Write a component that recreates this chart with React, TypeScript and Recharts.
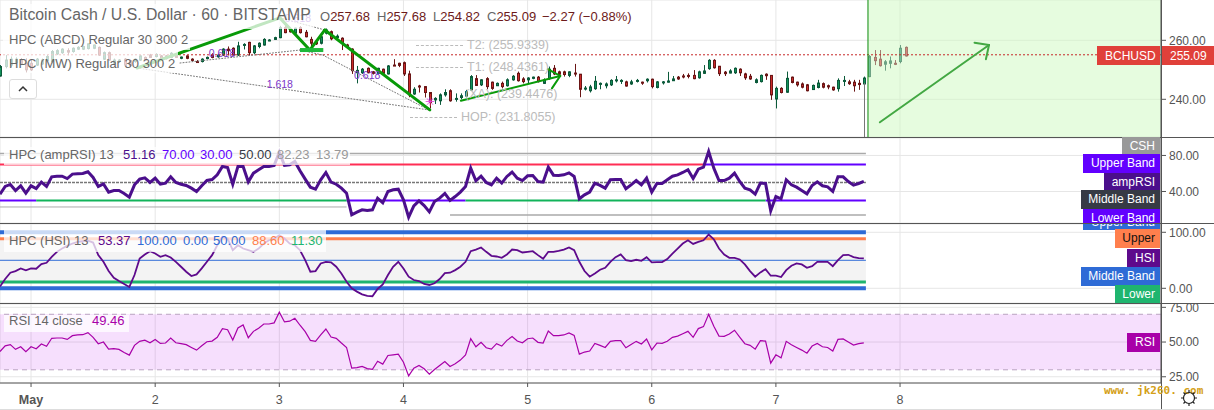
import React from 'react';
import { ComposedChart, Bar, Line, XAxis, YAxis, CartesianGrid, ReferenceLine, ReferenceArea, ReferenceDot } from 'recharts';

// hourly candles, one entry per bar
const opens = [
  247.9,251.1,251.6,252.4,253.3,252.2,252.2,251.6,252,253.1,
  252.8,255.4,255.8,256.5,256.2,257,257,257.2,257.3,257.6,
  253.6,255.8,252.2,252.8,253.6,253.1,252.8,253.3,254.2,255,
  254.5,254.7,254.7,254.2,255.4,253.9,254.7,253.6,252.8,252.8,
  253.8,255,254.4,255,257,257.3,255,258.3,259.3,255.8,
  257.9,258.4,259.9,260.3,260.9,264.3,263.7,262.4,264.3,262.7,
  260.3,259.3,259,262.4,262.9,260.9,260.7,258.4,257,249,
  249,250.5,249.3,248.8,250.2,248.6,251.6,252.2,252.4,248.6,
  241.8,244.5,244.3,242.3,239.8,239.5,241.5,242.9,240.1,240.6,
  241.1,243.2,247,244.9,247,245.8,244.6,245.4,244.6,246.6,
  248.8,246.9,246.6,247.1,247.5,245.4,247,250.5,249.3,249.3,
  248.1,248.9,248.5,243.5,242.9,243.6,245.1,244.6,244.9,246.4,
  246.1,245.9,245.2,246.1,245.8,246.3,246.8,244,245.7,245.8,
  246.3,247.5,247.9,248.1,248.1,247.3,248.8,250.4,253.2,251.2,
  249.2,248.9,249,250.2,248.6,247.8,245.7,246,248.5,248.1,
  240.1,243.7,242.4,247.5,245.8,245.2,244.9,243.3,244,245.3,
  244.6,244.1,243.6,246.3,245.9,245.8,245.4,245.2,247.7,254.2,
  253.6,251.9,252.2,252.2,252.8,257.6,
];
const closes = [
  251.1,253.3,253.6,253.6,252,250,250,253.6,253.3,254.5,
  256.2,256.5,257,256,257.3,257.6,257.9,258.8,258.4,255,
  255.8,253.3,253.3,253.3,251.6,251.5,253.6,254.7,253.3,254.2,
  255.2,253.8,253.8,255.6,254.2,254.3,253.9,253.2,252.6,253.6,
  254.2,254.2,255,257,256.5,255,258.1,258.6,255.8,258.1,
  259,260.3,260.1,260.9,264.3,262.6,262.9,264.1,262.6,261.2,
  259,258.8,261.2,263.5,260.5,261.4,259,257.6,249.7,249.8,
  250.2,249,248.8,250.5,248.8,251.3,251.4,251.5,248.6,241.5,
  243.4,244.4,242.3,238.9,240.3,241.5,242.3,239.5,240.3,241.2,
  242.6,247.7,244.7,246.6,244.3,243.7,245.4,244.3,246.6,247.8,
  246.3,246,247.2,247.5,246,246.6,250.2,248.6,248.5,248.4,
  249.3,248.7,243.4,243.8,244.2,246.1,245.4,245.2,246.4,246.6,
  246.4,244.5,245.9,246.4,245.7,246.8,244.3,245.9,245.9,246.2,
  246.9,246.9,247.7,247.9,247,249.3,249.6,253.2,250.7,248.7,
  248.7,249.6,250.5,249,247.3,246.9,246.6,248.1,248,241.5,
  243.7,242.3,247.1,245.7,244.9,244.1,242.9,244.7,245.5,244.1,
  244.2,243.2,246.4,246.4,245.3,244.6,245,247.2,254.5,253.1,
  251.4,252.7,253,252.1,257.3,254.7,
];
const highs = [
  251.6,255,254.5,254.2,254,253.9,253.6,254,253.8,255,
  256.7,257,257.3,257.3,257.6,258,258.2,259,258.6,257.9,
  256.2,256.2,253.8,253.6,254,253.4,253.9,255,254.5,255.4,
  255.6,255,255,256,255.6,254.5,254.9,253.9,253.3,253.9,
  254.5,255.6,255.3,257.3,257.9,257.6,259.5,259,259.5,258.4,
  259.3,260.7,260.4,261.2,264.9,265.8,264.2,264.3,264.8,263.5,
  261.2,259.7,261.5,264,263.3,262,261,258.8,257.3,251.3,
  250.6,250.8,249.6,250.7,250.4,251.6,253.6,252.4,252.8,249.7,
  244.1,244.9,244.5,242.3,240.7,242,243.4,243.4,242,242,
  243.2,248.2,248.2,246.8,247.5,246,245.7,246,247.1,248.2,
  249.4,247.5,247.5,247.7,247.9,247.1,251.1,251.6,249.7,249.7,
  249.5,252,248.6,244.5,244.9,247.9,245.7,245.7,246.8,247.9,
  246.8,246.3,246.6,246.9,246,247.1,247,246.2,246.2,249.3,
  247.9,247.9,248.6,248.8,249.9,249.7,251.6,253.6,253.6,251.3,
  249.6,250.2,250.8,250.5,249,248.6,247.1,248.4,248.8,248.2,
  244.3,244.1,249.4,247.7,246,245.7,245.2,245,246.6,245.7,
  245,244.3,247.1,247.9,246.6,246.6,246.6,247.7,255,256.7,
  256.7,253.3,254.5,253.3,258.4,257.9,
];
const lows = [
  247.7,250.5,250.9,252,251.6,249.1,249.6,251.3,251.6,252.8,
  252.2,255,255.4,254.9,255.8,256.7,256.7,256.9,257,254.7,
  253.3,253,252,252.4,251.3,251.1,252.4,253,253,254,
  254.2,253.6,253.5,253.9,254,253.6,253.6,252.8,252.5,252.5,
  253.6,253.9,254.1,254.7,254.9,254.8,254.7,256.9,255,255.3,
  257.3,258.2,259.7,260.1,260.7,262.4,262.6,262,262.3,261,
  256.7,258.4,258.6,262,260,260.6,256.7,257.3,248.6,245.4,
  248.6,248.8,248.4,248.6,248.6,248.4,251.3,250.9,247.9,240.7,
  241.5,242.3,240.6,236.9,238.4,238.1,240.9,239.2,239.2,240,
  240.7,242.9,244.5,244.5,243.4,243.2,244.5,243.7,244.3,246.3,
  246,245.4,245.4,246.8,245.7,245.2,246.6,248.2,247.7,247.7,
  247.5,247.7,240.7,243,242.3,243.2,243.4,243.7,244.5,245.7,
  245.2,244.3,244.9,245.7,244.9,245.7,243.7,243.7,245,245.7,
  246.2,246.6,247.1,247.1,246.8,247,248.6,250,250.4,247.9,
  247.9,248.8,248.6,247.9,246.6,246.6,245.4,245.7,246.6,239.8,
  236.9,242,242.2,245.4,244.3,243.7,242.7,243.2,243.7,243.7,
  243.4,242.9,242.6,244.5,244.9,242.6,243.2,244.9,247.5,251.6,
  251.1,249.7,250.5,251.6,252.2,254.5,
];

const ampRsi = [
  37,45.6,47.8,41.1,46.3,38.1,46.3,43.3,50.4,45.6,
  56.3,57,57,54.4,59.3,59.6,60,61.9,55.6,45.6,
  48.5,39.3,41.1,41.1,37.8,33.7,47.4,53.7,55.2,50,
  54.8,48.1,49.3,56.3,50,48.1,46.7,43.7,40,46.3,
  52.2,53.3,58.5,67.8,66.7,48.1,67.8,67.8,50.7,60.4,
  64.1,67.8,67.8,68.9,83.7,68.9,69.6,73.3,63,53.7,
  44.8,42.6,53,61.1,50.4,48.1,43.7,38.1,14.1,17,
  19.6,18.9,19.6,32.6,27.4,40,41.9,42.6,30.7,11.5,
  24.1,29.6,24.4,17.4,28.9,32.6,37.8,30,34.4,39.3,
  45.6,65.9,51.9,57,50,47.4,54.8,49.3,56.7,61.5,
  54.8,52.2,57.4,57.8,51.1,50.4,67,58.1,57.8,58.5,
  60.7,56.7,31.9,36.3,39.3,49.3,46.7,43.7,53,53.3,
  53.3,43,47.4,52.2,47.4,54.8,39.3,48.9,48.9,53,
  57,58.5,61.1,64.1,54.4,64.8,67,84.4,65.9,52.2,
  52.2,54.8,60.4,51.1,43.7,41.9,37,49.3,48.9,18.5,
  34.4,31.9,53,47.4,44.8,41.1,37.4,46.7,50.7,46.3,
  45.2,40,56.3,56.3,51.1,47,48.9,51.16,
];
const hsi = [
  3,16.6,27.8,30.8,35.5,32,35.5,34.9,43.2,45.6,
  56.2,65.1,71,75.7,79.9,82.8,84,85.2,81.7,59.2,
  47.3,30.8,18.9,13,7.7,2.4,23.7,53.3,60.4,66.3,
  62.1,56.2,59.2,55,47.3,38.5,29.6,21.9,24.9,35.5,
  47.3,59.2,76.9,91.7,88.8,68,76.9,71,68,65.1,
  71,79.9,85.8,88.8,94.7,88.8,79.9,76.9,68,50.3,
  29.6,30.8,44.4,47.3,46.2,38.5,26.6,11.8,0,-5.9,
  -10.7,-13.6,-14.2,-1.2,7.1,23.7,38.5,47.3,35.5,20.7,
  14.8,13,7.7,5.9,8.9,16.6,27.2,27.8,32.5,38.5,
  47.3,66.3,69.2,72.8,65.1,58,56.8,54.4,60.4,69.2,
  68,63.9,65.1,66.3,59.2,52.7,65.1,65.1,66.9,69.2,
  72.8,68,47.3,30.8,20.7,26.6,33.1,36.7,47.3,55.6,
  60.4,50.3,48.5,50.9,49.1,55.6,46.2,46.7,46.7,52.1,
  62.1,71,79.9,85.8,79.3,82.8,85.8,95.9,87.6,71,
  60.4,54.4,54.4,51.5,42.6,30.8,20.7,28.4,34.3,22.5,
  22.5,20.1,32.5,40.2,44.4,42.6,36.7,39.6,47.3,47.3,
  47.3,39.6,50.3,59.2,59.8,55.6,53.8,53.37,
];
const rsi = [
  43.2,47.3,48.1,44.7,46.6,43,46.6,45.2,48.6,46.9,
  52.7,52.9,52.9,51.9,54.6,55.1,55.3,56.8,53.4,48.8,
  50,44.9,45.2,44.7,42.5,40.6,47.6,50.5,51.4,49.5,
  51.9,49,49.3,52.9,49.5,48.8,48.1,46.1,44.2,47.3,
  50.2,50.7,53.4,59.7,58.9,51.4,60.1,62.3,53.1,57.7,
  59.9,63,63,63.8,71.5,64.5,65,67.1,62.1,57.5,
  51.2,50.5,55.1,59.4,53.6,52.7,49.3,46.1,31.2,31.6,
  32.4,30.9,30.4,36.2,34.1,40.3,40.8,41.3,35.5,25.6,
  31.2,33.1,30.7,26.8,30.2,33.1,36,32.4,34.3,37,
  40.8,52.4,46.6,49.8,45.9,44.9,48.8,47.1,51.2,53.9,
  50.7,49.5,52.4,52.9,49.8,49.3,58,54.6,54.6,55.1,
  56.5,54.8,41.3,42.8,43.5,49,47.6,46.1,50.5,51,
  51,45.9,48.3,50.5,48.6,52.2,44.4,49.3,49,50.5,
  53.4,54.3,56,57.7,53.4,59.7,61.1,70,61.4,54.3,
  54.1,55.8,58.5,53.6,48.8,47.6,44.9,51,50.7,34.8,
  40.8,38.6,50.5,48.1,46.1,44.2,42,47.1,49,46.6,
  46.1,43.5,51.9,52.2,50,47.8,48.8,49.46,
];

const dayTicks = [6, 30, 54, 78, 102, 126, 150, 174];
const dayLabels = ['May', '2', '3', '4', '5', '6', '7', '8'];

const priceTicks = [240, 260];
const ampTicks = [40, 80];
const hsiTicks = [0, 100];
const rsiTicks = [25, 50, 75];

const lastPrice = 255.09;
const lastBar = 167.4;
const futureStart = 167.8;
const xEnd = 224.45;

// bands of the indicators, as [from bar, to bar]
const upperRedSpans = [[0, 136]];
const upperPurpleSpans = [[136, lastBar]];
const lowerPurpleSpans = [[0, 7], [67, 90], [148, lastBar]];
const lowerGreenSpans = [[7, 67], [90, 148]];
const cshUpperSpans = [[0, lastBar]];
const cshEarlySpans = [[0, 67]];
const cshLowerSpans = [[87, lastBar]];
const cshUpperLevel = 82.23;
const cshLowerLevel = 13.79;
const cshEarlyLevel = 22.8;

// harmonic pattern and arrows drawn on the price pane, as [bar, price]
const abcdLeg = [[26.5, 250.6], [54.1, 267.6], [59.9, 256.7], [62.8, 263.5], [83.1, 236.4]];
const midArrow = [[89.1, 239.5], [108.3, 247.9]];
const midArrowHead = [[105.9, 250.2], [108.3, 247.9], [106.7, 243.7]];
const bigArrow = [[170.1, 232.2], [191.2, 258.4]];
const bigArrowHead = [[188.4, 259.2], [191.2, 258.4], [190.6, 253.6]];
const dottedLegs = [
  [[26.5, 250.6], [82.9, 236.4]],
  [[34.8, 252.3], [58, 256.7]],
  [[54.1, 267.6], [62.8, 263.5]],
  [[58, 256.7], [62.4, 255]],
  [[62.4, 255], [82.9, 236.4]],
];
const ratioLabels = [
  { i: 54.1, p: 245.2, text: '1.618' },
  { i: 42.9, p: 255.7, text: '0.618' },
  { i: 57.6, p: 267.6, text: '0.618' },
  { i: 71, p: 248.2, text: '0.618' },
];

const rows = opens.map((o, i) => ({
  i,
  open: o,
  close: closes[i],
  high: highs[i],
  low: lows[i],
  amp: ampRsi[i],
  hsi: hsi[i],
  rsi: rsi[i],
}));

const FONT = '"Liberation Sans", Arial, sans-serif';
const GRID = '#e6e6e6';
const AXIS = '#555';
const VIOLET = '#6200ff';
const BLUE = '#2e6bd6';
const ORANGE = '#ff7f4d';
const GREEN = '#1fb56f';
const DEEP = '#4b0f8c';

const Candle = (props: any) => {
  const { x, y, width, height, payload } = props;
  const perUnit = height / (payload.high - payload.low);
  const top = y + (payload.high - Math.max(payload.open, payload.close)) * perUnit;
  const bodyH = Math.max(1, Math.abs(payload.open - payload.close) * perUnit);
  const up = payload.close >= payload.open;
  const cx = Math.round(x + width / 2) + 0.5;
  const edge = up ? '#0b5a3a' : '#6a1515';
  // the forecast zone paints over the last candles, so they come out washed
  return (
    <g opacity={payload.i > futureStart ? 0.55 : 1}>
      <line x1={cx} x2={cx} y1={y} y2={y + height} stroke={edge} strokeWidth={1} />
      <rect x={cx - 1} y={top} width={2} height={bodyH} fill={up ? '#12915a' : '#cc2a2a'} stroke={edge} strokeWidth={1} />
    </g>
  );
};

const DayTick = (props: any) => {
  const { x, y, index } = props;
  const label = dayLabels[index];
  return (
    <text x={x} y={y + 15} textAnchor="middle" fill={AXIS} fontSize={12.5} fontFamily={FONT} fontWeight={label === 'May' ? 'bold' : 'normal'}>
      {label}
    </text>
  );
};

const Txt = ({ x, y, color, size = 13, children, weight }: any) => (
  <div style={{ position: 'absolute', left: x, top: y, color, fontSize: size, fontFamily: FONT, fontWeight: weight, lineHeight: '16px', whiteSpace: 'nowrap' }}>
    {children}
  </div>
);

const Box = ({ x, y, w, h, color, opacity }: any) => (
  <div style={{ position: 'absolute', left: x, top: y, width: w, height: h, background: color, opacity }} />
);

const Tag = ({ x, y, w, h = 19, bg, color = '#fff', children, shift = 0 }: any) => (
  <div
    style={{
      position: 'absolute', left: x, top: y, width: w, height: h, background: bg, color,
      fontSize: 12, fontFamily: FONT, lineHeight: '19px', textAlign: 'right',
      paddingRight: 5, boxSizing: 'border-box', overflow: 'hidden', whiteSpace: 'nowrap',
    }}
  >
    <div style={{ marginTop: shift }}>{children}</div>
  </div>
);

const DashLabel = ({ x, y, dash, text }: any) => (
  <>
    <div style={{ position: 'absolute', left: x, top: y, width: dash, borderTop: '1px dashed #bbb' }} />
    <Txt x={x + dash + 4} y={y - 8} color="#bbb" size={12.5}>{text}</Txt>
  </>
);

const xProps: any = {
  dataKey: 'i',
  type: 'number',
  domain: [0, xEnd],
  ticks: dayTicks,
  allowDataOverflow: true,
};

const yProps = (domain: number[], ticks: number[]): any => ({
  orientation: 'right',
  width: 53,
  type: 'number',
  domain,
  ticks,
  allowDataOverflow: true,
  interval: 0,
  tickSize: 5,
  tickMargin: 3,
  stroke: AXIS,
  tick: { fill: AXIS, fontSize: 12, fontFamily: FONT },
  tickFormatter: (v: number) => v.toFixed(2),
});

const seg = (a: number[], b: number[]): any => [{ x: a[0], y: a[1] }, { x: b[0], y: b[1] }];

const spanLines = (spans: number[][], level: number, color: string, width: number, key: string) =>
  spans.map(([from, to]) => (
    <ReferenceLine key={`${key}-${from}`} segment={seg([from, level], [to, level])} stroke={color} strokeWidth={width} />
  ));

const pathLines = (pts: number[][], color: string, width: number, key: string, dash?: string) =>
  pts.slice(1).map((p, n) => (
    <ReferenceLine key={`${key}-${n}`} segment={seg(pts[n], p)} stroke={color} strokeWidth={width} strokeDasharray={dash} strokeLinecap="round" />
  ));

const App = () => {
  const width = 1214;
  const margin = { top: 0, right: 0, bottom: 0, left: 0 };
  return (
    <div style={{ position: 'absolute', left: 0, top: 0, width, height: 410, background: '#fff', overflow: 'hidden' }}>
      <div style={{ position: 'absolute', left: 0, top: 0 }}>
        <ComposedChart width={width} height={137} data={rows} margin={margin}>
          <CartesianGrid stroke={GRID} />
          <XAxis {...xProps} hide />
          <YAxis {...yProps([227.22, 273.66], priceTicks)} />
          <ReferenceArea x1={futureStart} x2={xEnd} y1={227.22} y2={273.66} fill="#cdfac0" fillOpacity={0.5} stroke="none" />
          <Bar dataKey={(d: any) => [d.low, d.high]} barSize={4} shape={<Candle />} isAnimationActive={false} />
          <ReferenceLine y={lastPrice} stroke="#c62828" strokeDasharray="2 2" />
          {dottedLegs.map((leg, n) => pathLines(leg, '#777', 1, `dot${n}`, '1 2'))}
          {pathLines(abcdLeg, '#089a08', 3, 'abcd')}
          <ReferenceLine segment={seg([58, 256.7], [62.5, 256.7])} stroke="#1fb83a" strokeWidth={4} />
          {pathLines(midArrow, '#089a08', 2, 'mid')}
          {pathLines(midArrowHead, '#089a08', 2, 'midh')}
          {ratioLabels.map((r) => (
            <ReferenceDot key={r.text + r.i} x={r.i} y={r.p} r={0} stroke="none" label={{ value: r.text, position: 'center', fill: '#7b35c9', fontSize: 10.5, fontFamily: FONT }} />
          ))}
          {pathLines(bigArrow, '#43a843', 2, 'big')}
          {pathLines(bigArrowHead, '#43a843', 2, 'bigh')}
          <ReferenceLine x={futureStart} stroke="#0a8a0a" strokeWidth={1} />
        </ComposedChart>
      </div>

      <div style={{ position: 'absolute', left: 0, top: 138 }}>
        <ComposedChart width={width} height={85} data={rows} margin={margin}>
          <CartesianGrid stroke={GRID} />
          <XAxis {...xProps} hide />
          <YAxis {...yProps([5, 99.4], ampTicks)} />
          {spanLines(cshUpperSpans, cshUpperLevel, '#aaa', 1.5, 'cshU')}
          {spanLines(cshEarlySpans, cshEarlyLevel, '#aaa', 1, 'cshE')}
          {spanLines(cshLowerSpans, cshLowerLevel, '#aaa', 1.5, 'cshL')}
          {spanLines(upperRedSpans, 70, '#ff2e55', 2, 'ur')}
          {spanLines(upperPurpleSpans, 70, VIOLET, 2, 'up')}
          <ReferenceLine segment={seg([0, 50], [lastBar, 50])} stroke="#777" strokeWidth={1.5} strokeDasharray="3 1" />
          {spanLines(lowerPurpleSpans, 30, VIOLET, 2, 'lp')}
          {spanLines(lowerGreenSpans, 30, '#12b35a', 2, 'lg')}
          <Line dataKey="amp" stroke={DEEP} strokeWidth={3} dot={false} isAnimationActive={false} />
        </ComposedChart>
      </div>

      <div style={{ position: 'absolute', left: 0, top: 224 }}>
        <ComposedChart width={width} height={79} data={rows} margin={margin}>
          <CartesianGrid stroke={GRID} />
          <XAxis {...xProps} hide />
          <YAxis {...yProps([-26.25, 114.8], hsiTicks)} />
          <ReferenceArea x1={0} x2={lastBar} y1={11.3} y2={88.6} fill="#f3f3f3" fillOpacity={1} stroke="none" />
          <ReferenceLine segment={seg([0, 100], [lastBar, 100])} stroke={BLUE} strokeWidth={4} />
          <ReferenceLine segment={seg([0, 0], [lastBar, 0])} stroke={BLUE} strokeWidth={4} />
          <ReferenceLine segment={seg([0, 88.6], [lastBar, 88.6])} stroke={ORANGE} strokeWidth={3} />
          <ReferenceLine segment={seg([0, 11.3], [lastBar, 11.3])} stroke={GREEN} strokeWidth={3} />
          <ReferenceLine segment={seg([0, 50], [lastBar, 50])} stroke={BLUE} strokeWidth={1} />
          <Line dataKey="hsi" stroke="#5e0a8c" strokeWidth={1.8} dot={false} isAnimationActive={false} />
        </ComposedChart>
      </div>

      <div style={{ position: 'absolute', left: 0, top: 304 }}>
        <ComposedChart width={width} height={105} data={rows} margin={margin}>
          <CartesianGrid stroke={GRID} />
          <XAxis {...xProps} height={26} tickSize={4} stroke={AXIS} tick={<DayTick />} interval={0} />
          <YAxis {...yProps([20.5, 77.4], rsiTicks)} />
          <ReferenceArea x1={0} x2={xEnd} y1={30} y2={70} fill="#ba09f0" fillOpacity={0.13} stroke="none" />
          <ReferenceLine y={70} stroke="#b9a3c0" strokeDasharray="5 4" />
          <ReferenceLine y={30} stroke="#b9a3c0" strokeDasharray="5 4" />
          <Line dataKey="rsi" stroke="#a800a8" strokeWidth={1.2} dot={false} isAnimationActive={false} />
        </ComposedChart>
      </div>

      {/* pane separators */}
      <Box x={0} y={137} w={1214} h={1} color="#555" />
      <Box x={0} y={223} w={1214} h={1} color="#555" />
      <Box x={0} y={303} w={1214} h={1} color="#555" />
      <Box x={1161} y={0} w={1} h={410} color="#555" />
      <Box x={0} y={409} w={1214} h={1} color="#ddd" />
      <Box x={864} y={83} w={1} h={54} color="#777" />

      {/* legend backdrops */}
      <Box x={3} y={4} w={310} h={25} color="#fff" opacity={0.75} />
      <Box x={3} y={29} w={187} h={21} color="#fff" opacity={0.75} />
      <Box x={3} y={50} w={175} h={23} color="#fff" opacity={0.75} />
      <Box x={4} y={147} w={346} h={18} color="#fff" opacity={0.75} />
      <Box x={4} y={230} w={322} h={22} color="#fff" opacity={0.75} />
      <Box x={4} y={315} w={125} h={17} color="#fff" opacity={0.75} />

      <Txt x={9} y={7} color="#666" size={15.8}>Bitcoin Cash / U.S. Dollar · 60 · BITSTAMP</Txt>
      {[['O', '257.68', 320], ['H', '257.68', 377], ['L', '254.82', 433], ['C', '255.09', 487]].map(([a, b, x]) => (
        <Txt key={a as string} x={x} y={9} color="#6d1a1a"><span style={{ color: '#666' }}>{a}</span>{b}</Txt>
      ))}
      <Txt x={542} y={9} color="#6d1a1a">−2.27 (−0.88%)</Txt>
      <Txt x={9} y={32} color="#666">HPC (ABCD) Regular 30 300 2</Txt>
      <Txt x={9} y={56} color="#666">HPC (MW) Regular 30 300 2</Txt>
      <div style={{ position: 'absolute', left: 9, top: 79, width: 28, height: 20, boxSizing: 'border-box', border: '1px solid #ddd', borderRadius: 3, background: '#fff' }}>
        <svg width={26} height={18}><path d="M9 11 L13 7 L17 11" fill="none" stroke="#333" strokeWidth={1.5} /></svg>
      </div>

      <DashLabel x={416} y={45} dash={47} text="T2: (255.9339)" />
      <DashLabel x={416} y={67} dash={47} text="T1: (248.4361)" />
      <Txt x={465} y={86} color="#bbb" size={12.5}>(XA): (239.4476)</Txt>
      <DashLabel x={410} y={117} dash={47} text="HOP: (231.8055)" />
      <Txt x={425} y={94} color="#e040e0" size={12}>✳</Txt>

      <Box x={1097} y={46} w={63} h={19} color="#e0403a" />
      <Txt x={1105} y={48} color="#fff" size={12}>BCHUSD</Txt>
      <Box x={1162} y={46} w={52} h={19} color="#e0403a" />
      <Txt x={1170} y={48} color="#fff" size={12}>255.09</Txt>

      <Txt x={9} y={147} color="#666">HPC (ampRSI) 13</Txt>
      <Txt x={123} y={147} color={DEEP}>51.16</Txt>
      <Txt x={162} y={147} color={VIOLET}>70.00</Txt>
      <Txt x={200} y={147} color={VIOLET}>30.00</Txt>
      <Txt x={239} y={147} color="#363a45">50.00</Txt>
      <Txt x={277} y={147} color="#999">82.23</Txt>
      <Txt x={316} y={147} color="#999">13.79</Txt>

      <Txt x={9} y={233} color="#666">HPC (HSI) 13</Txt>
      <Txt x={98} y={233} color="#5e0a8c">53.37</Txt>
      <Txt x={137} y={233} color={BLUE}>100.00</Txt>
      <Txt x={183} y={233} color={BLUE}>0.00</Txt>
      <Txt x={213} y={233} color={BLUE}>50.00</Txt>
      <Txt x={252} y={233} color={ORANGE}>88.60</Txt>
      <Txt x={291} y={233} color={GREEN}>11.30</Txt>

      <Txt x={9} y={313} color="#666">RSI 14 close</Txt>
      <Txt x={92} y={313} color="#a800a8">49.46</Txt>

      <Tag x={1122} y={137} w={38} bg="#999">CSH</Tag>
      <Tag x={1083} y={154} w={77} bg={VIOLET}>Upper Band</Tag>
      <Tag x={1104} y={173} w={56} bg={DEEP}>ampRSI</Tag>
      <Tag x={1081} y={190} w={79} bg="#363a45">Middle Band</Tag>
      <Tag x={1083} y={209} w={77} h={14} bg={VIOLET}>Lower Band</Tag>
      <Tag x={1083} y={224} w={77} h={6} bg={BLUE} shift={-11}>Upper Band</Tag>
      <Tag x={1115} y={229} w={45} bg={ORANGE} color="#111">Upper</Tag>
      <Tag x={1127} y={249} w={33} bg="#5e0a8c">HSI</Tag>
      <Tag x={1081} y={267} w={79} bg={BLUE}>Middle Band</Tag>
      <Tag x={1115} y={285} w={45} h={18} bg={GREEN}>Lower</Tag>
      <Tag x={1127} y={333} w={33} bg="#a800a8">RSI</Tag>

      <Txt x={1104} y={382} color="#d4a017" size={11} weight="bold"><span style={{ fontFamily: '"DejaVu Sans Mono", monospace' }}>www. jk260. com</span></Txt>
      <svg style={{ position: 'absolute', left: 1180, top: 389 }} width={18} height={18}>
        <circle cx={9} cy={9} r={5.5} fill="none" stroke="#222" strokeWidth={1.2} />
        <path d="M9 1 V3.5 M9 14.5 V17 M1 9 H3.5 M14.5 9 H17 M3.5 3.5 L5 5 M13 13 L14.5 14.5 M3.5 14.5 L5 13 M13 5 L14.5 3.5" stroke="#222" strokeWidth={1.2} />
      </svg>
    </div>
  );
};

export default App;
